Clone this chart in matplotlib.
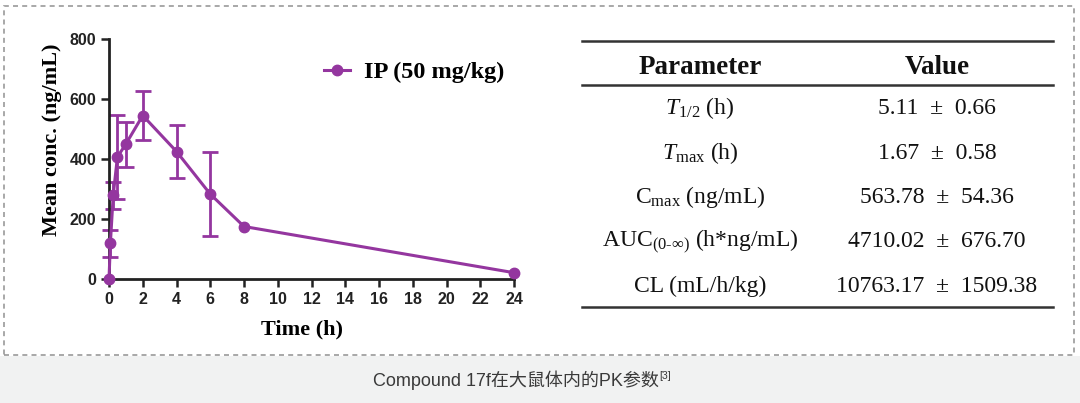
import numpy as np
import matplotlib
matplotlib.use("Agg")
import matplotlib.pyplot as plt
from matplotlib.patches import Rectangle
from matplotlib.lines import Line2D

# PK curve data
time_h = [0, 0.083, 0.25, 0.5, 1, 2, 4, 6, 8, 24]
conc = [0, 120, 280, 407, 450, 545, 425, 283, 175, 21]
conc_sd = [0, 45, 45, 139, 75, 83, 87, 141, 0, 0]
legend_label = "IP (50 mg/kg)"
xticks = list(range(0, 25, 2))
yticks = [0, 200, 400, 600, 800]

# PK parameter table
col_headers = ["Parameter", "Value"]
param_names = [r"$\mathit{T}_{1/2}$ (h)", r"$\mathit{T}_{\mathrm{max}}$ (h)",
               r"C$_{\mathrm{max}}$ (ng/mL)", r"AUC$_{(0\text{-}\infty)}$ (h*ng/mL)",
               "CL (mL/h/kg)"]
param_values = ["5.11 ± 0.66", "1.67 ± 0.58", "563.78 ± 54.36",
                "4710.02 ± 676.70", "10763.17 ± 1509.38"]
caption = "Compound 17f在大鼠体内的PK参数"
caption_ref = "[3]"

purple = "#94369f"
W, H = 1080, 403

plt.rcParams['mathtext.fontset'] = 'custom'
plt.rcParams['mathtext.rm'] = 'Liberation Serif'
plt.rcParams['mathtext.it'] = 'Liberation Serif:italic'
plt.rcParams['mathtext.bf'] = 'Liberation Serif:bold'

fig = plt.figure(figsize=(W / 100, H / 100), dpi=100)
fig.patch.set_facecolor("white")

def fx(px):
    return px / W

def fy(py):
    return 1 - py / H

# caption band + dashed frame
fig.patches.append(Rectangle((0, 0), 1, fy(356), transform=fig.transFigure,
                             facecolor="#f1f2f2", edgecolor="none", zorder=0))
fig.patches.append(Rectangle((fx(4), fy(355)), fx(1074) - fx(4), fy(6) - fy(355),
                             transform=fig.transFigure, facecolor="none",
                             edgecolor="#9a9a9a", lw=1.2, linestyle=(0, (3, 2.5)), zorder=1))

# ---- plot
ax = fig.add_axes([fx(109), fy(279), fx(514) - fx(109), fy(39) - fy(279)])
t = np.array(time_h)
c = np.array(conc)
sd = np.array(conc_sd)
has_err = sd > 0
ax.errorbar(t[has_err], c[has_err], yerr=sd[has_err], fmt="none", ecolor=purple,
            elinewidth=2, capsize=6, capthick=2, clip_on=False, zorder=2)
ax.plot(t, c, color=purple, lw=2.2, marker="o", markersize=7.5,
        clip_on=False, zorder=3, label=legend_label)
ax.set_xlim(0, 24)
ax.set_ylim(0, 800)
ax.set_xticks(xticks)
ax.set_yticks(yticks)
for s in ["top", "right"]:
    ax.spines[s].set_visible(False)
for s in ["left", "bottom"]:
    ax.spines[s].set_linewidth(2)
    ax.spines[s].set_color("#222222")
ax.tick_params(width=1.8, length=6, color="#222222", pad=3)
for lab in ax.get_xticklabels() + ax.get_yticklabels():
    lab.set_fontfamily("Liberation Sans")
    lab.set_fontweight("bold")
    lab.set_fontsize(11.5)
    lab.set_color("#222222")

ax.set_ylabel("Mean conc. (ng/mL)", fontfamily="Liberation Serif",
              fontweight="bold", fontsize=16)
ax.yaxis.set_label_coords((62 - 109) / 405, 0.58)
ax.set_xlabel("Time (h)", fontfamily="Liberation Serif", fontweight="bold",
              fontsize=16)
ax.xaxis.set_label_coords((302 - 109) / 405, (279 - 319) / 240)

ax.legend(loc="center left", bbox_to_anchor=(fx(324), fy(72)),
          bbox_transform=fig.transFigure, frameon=False, borderpad=0,
          borderaxespad=0, handlelength=1.05, handletextpad=0.6,
          prop={"family": "Liberation Serif", "weight": "bold", "size": 17.5})

# ---- table
rule_x = [fx(582), fx(1053)]
for ry in [41, 85, 307]:
    fig.lines.append(Line2D(rule_x, [fy(ry), fy(ry)], transform=fig.transFigure,
                            color="#333333", lw=1.8))
col_x = [fx(700), fx(937)]
for cx, h in zip(col_x, col_headers):
    fig.text(cx, fy(74), h, ha="center", va="baseline", fontfamily="Liberation Serif",
             fontweight="bold", fontsize=19.5, color="#111111")
row_y = [107, 152, 196, 240, 285]
for ry, name, val in zip(row_y, param_names, param_values):
    fig.text(col_x[0], fy(ry + 7), name, ha="center", va="baseline",
             fontfamily="Liberation Serif", fontsize=17, color="#111111")
    fig.text(col_x[1], fy(ry + 7), val.replace(" ± ", "  ±  "), ha="center",
             va="baseline", fontfamily="Liberation Serif", fontsize=17,
             color="#111111")

# ---- caption
cap = fig.text(fx(373), fy(380), caption, ha="left", va="center",
               family=["Liberation Sans", "Noto Sans CJK SC"], fontsize=13,
               color="#3a3a3a")
r = fig.canvas.get_renderer()
bb = cap.get_window_extent(renderer=r)
fig.text(bb.x1 / W + 0.0005, fy(376), caption_ref, ha="left", va="center",
         family=["Liberation Sans"], fontsize=7.5, color="#3a3a3a")

fig.savefig("out.png", dpi=100, facecolor=fig.get_facecolor())
